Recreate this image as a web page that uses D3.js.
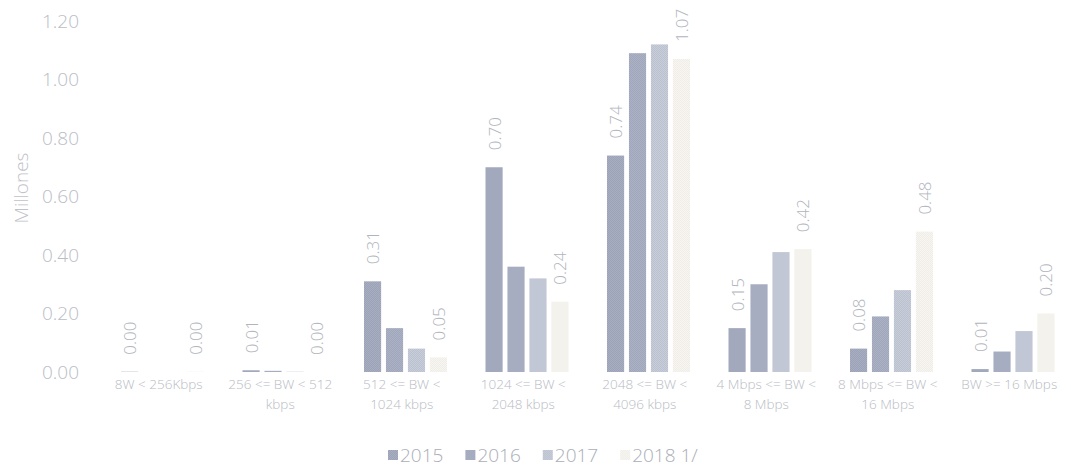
<!DOCTYPE html>
<html>
<head>
<meta charset="utf-8">
<script src="https://cdn.jsdelivr.net/npm/d3@7"></script>
<style>
  html, body { margin: 0; padding: 0; background: #ffffff; }
  svg { display: block; font-family: "Open Sans", "Noto Sans", sans-serif; }
</style>
</head>
<body>
<svg id="chart" width="1071" height="475"></svg>
<script>
// Bandwidth tiers (x-axis labels split over two lines)
const categories = [
  ["8W < 256Kbps"],
  ["256 <= BW < 512", "kbps"],
  ["512 <=  BW <", "1024 kbps"],
  ["1024 <= BW <", "2048 kbps"],
  ["2048 <=  BW <", "4096 kbps"],
  ["4 Mbps <= BW <", "8 Mbps"],
  ["8 Mbps <= BW <", "16 Mbps"],
  ["BW >= 16 Mbps"]
];

const seriesNames = ["2015", "2016", "2017", "2018 1/"];

// Connections, millions
const values2015 = [0.001, 0.006, 0.31, 0.70, 0.74, 0.15, 0.08, 0.01];
const values2016 = [0.000, 0.004, 0.15, 0.36, 1.09, 0.30, 0.19, 0.07];
const values2017 = [0.000, 0.001, 0.08, 0.32, 1.12, 0.41, 0.28, 0.14];
const values2018 = [0.001, 0.000, 0.05, 0.24, 1.07, 0.42, 0.48, 0.20];

const yTicks = [0, 0.2, 0.4, 0.6, 0.8, 1.0, 1.2];

const seriesValues = [values2015, values2016, values2017, values2018];
const seriesColors = ["#a7aec1", "#abb2c6", "#c8cdda", "#f7f6f2"];
const seriesDots = ["#9ca3b7", "#a0a7bb", "#bcc1cf", "#efede6"];
const labelledSeries = [0, 3];

const svg = d3.select("#chart");

// Fine speckled texture for each series fill
const defs = svg.append("defs");
seriesColors.forEach((c, i) => {
  const p = defs.append("pattern")
    .attr("id", "fill" + i)
    .attr("patternUnits", "userSpaceOnUse")
    .attr("width", 2).attr("height", 2);
  p.append("rect").attr("width", 2).attr("height", 2).attr("fill", c);
  p.append("rect").attr("x", 0).attr("y", 0).attr("width", 1).attr("height", 1).attr("fill", seriesDots[i]);
  p.append("rect").attr("x", 1).attr("y", 1).attr("width", 1).attr("height", 1).attr("fill", seriesDots[i]);
});

const y = d3.scaleLinear().domain([0, 1.2]).range([372, 21]);

const x0 = d3.scaleBand()
  .domain(d3.range(categories.length))
  .range([102, 1074])
  .padding(0);

const x1 = d3.scaleBand()
  .domain(d3.range(seriesNames.length))
  .range([19, 102])
  .paddingInner(0.22)
  .paddingOuter(0);

// Y axis: tick labels only
const yAxis = d3.axisLeft(y)
  .tickValues(yTicks)
  .tickFormat(d3.format(".2f"))
  .tickSize(0)
  .tickPadding(0);

const yG = svg.append("g")
  .attr("transform", "translate(79,0)")
  .call(yAxis);
yG.select(".domain").remove();
yG.selectAll("text")
  .attr("fill", "#babdc5")
  .attr("font-size", 19)
  .attr("font-weight", 300)
  .attr("font-family", "'Open Sans', sans-serif");

svg.append("text")
  .attr("transform", "translate(28,188) rotate(-90)")
  .attr("text-anchor", "middle")
  .attr("fill", "#bec1c8")
  .attr("font-size", 19)
  .attr("font-weight", 300)
  .text("Millones");

// Bars
const groups = svg.append("g").selectAll("g")
  .data(categories)
  .join("g")
  .attr("transform", (d, i) => `translate(${x0(i)},0)`);

groups.each(function (cat, ci) {
  const g = d3.select(this);
  seriesValues.forEach((vals, si) => {
    const v = vals[ci];
    g.append("rect")
      .attr("x", x1(si))
      .attr("width", x1.bandwidth())
      .attr("y", y(v))
      .attr("height", y(0) - y(v))
      .attr("fill", `url(#fill${si})`);
  });
  labelledSeries.forEach(si => {
    const v = seriesValues[si][ci];
    const cx = x1(si) + x1.bandwidth() / 2;
    g.append("text")
      .attr("transform", `translate(${cx},${y(v) - 17}) rotate(-90)`)
      .attr("text-anchor", "start")
      .attr("dominant-baseline", "central")
      .attr("fill", "#b0b4bc")
      .attr("font-size", 17)
      .attr("font-weight", 300)
      .text(d3.format(".2f")(v));
  });
});

// X axis labels
const xG = svg.append("g");
categories.forEach((lines, i) => {
  const cx = x0(i) + x0.bandwidth() / 2 - 4;
  const t = xG.append("text")
    .attr("x", cx)
    .attr("y", 389)
    .attr("text-anchor", "middle")
    .attr("fill", "#b8bbc3")
    .attr("font-size", 13.5)
    .attr("font-weight", 300);
  lines.forEach((line, li) => {
    t.append("tspan")
      .attr("x", cx)
      .attr("dy", li === 0 ? 0 : 20)
      .text(line);
  });
});

// Legend
const legend = svg.append("g").attr("transform", "translate(388,455)");
let lx = 0;
seriesNames.forEach((name, i) => {
  const item = legend.append("g").attr("transform", `translate(${lx},0)`);
  item.append("rect")
    .attr("x", 0).attr("y", -5)
    .attr("width", 10).attr("height", 10)
    .attr("fill", `url(#fill${i})`);
  const txt = item.append("text")
    .attr("x", 12).attr("y", 0)
    .attr("dominant-baseline", "central")
    .attr("fill", "#aaaeb7")
    .attr("font-size", 19)
    .attr("font-weight", 300)
    .text(name);
  lx += 12 + txt.node().getComputedTextLength() + 22;
});
</script>
</body>
</html>
